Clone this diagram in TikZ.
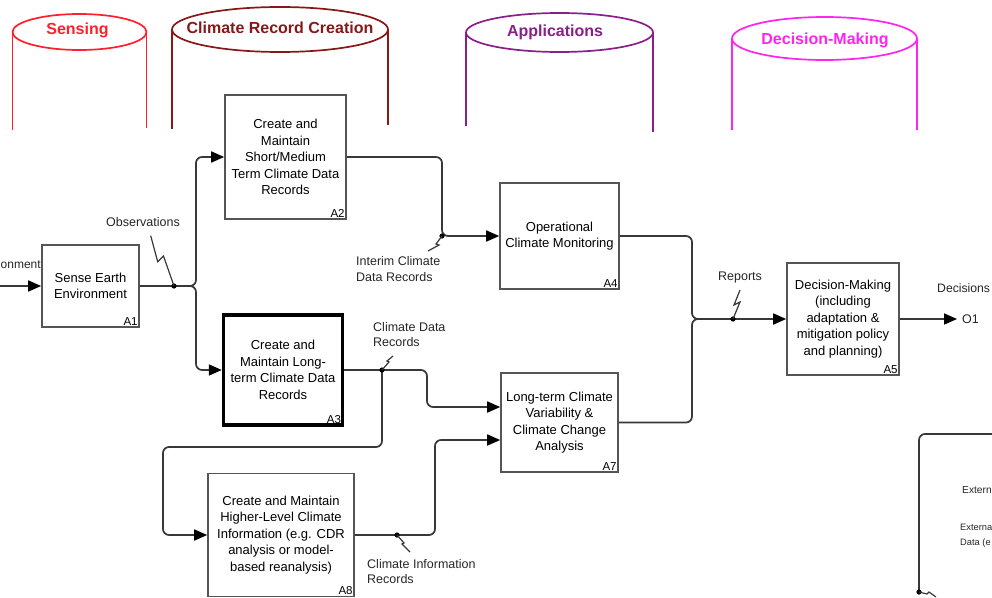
\documentclass[tikz,border=0pt]{standalone}
\usepackage{fontspec}
\setmainfont{Liberation Sans}
\usetikzlibrary{arrows.meta,calc}
\definecolor{senscol}{HTML}{FF1F2F}
\definecolor{crccol}{HTML}{861818}
\definecolor{appcol}{HTML}{8A1E8A}
\definecolor{dmcol}{HTML}{FF22F0}
\definecolor{boxgray}{HTML}{555555}
\definecolor{linegray}{HTML}{383838}
\begin{document}
\begin{tikzpicture}[x=1pt,y=-1pt,
  box/.style={draw=boxgray, line width=1.6pt, align=center, inner sep=0pt, font=\fontsize{13}{16.5}\selectfont},
  conn/.style={draw=linegray, line width=1.7pt, rounded corners=6pt},
  arr/.style={conn, -{Triangle[length=13pt,width=11pt,color=black,fill=black]}},
  lbl/.style={font=\fontsize{12.5}{15.5}\selectfont, inner sep=0pt, text=black!85},
  boxid/.style={font=\fontsize{11.5}{13}\selectfont, inner sep=2pt, anchor=south east},
  ttl/.style={font=\bfseries\fontsize{16}{18}\selectfont, inner sep=0pt},
  cyl/.style={line width=1.7pt},
  squig/.style={draw=linegray, line width=1.2pt, line join=miter},
  jdot/.style={fill=black},
]
\useasboundingbox (0,0) rectangle (992,597);
\clip (0,0) rectangle (992,597);

% ---- swim-lane cylinders ----
\draw[cyl, senscol] (79.5,32) ellipse [x radius=67pt, y radius=18pt];
\draw[cyl, senscol] (12.5,32) -- (12.5,130) (146.5,32) -- (146.5,128);
\node[ttl, text=senscol] (tSens) at (77.5,30) {Sensing};

\draw[cyl, crccol] (280,29.5) ellipse [x radius=108pt, y radius=22.5pt];
\draw[cyl, crccol] (172,29.5) -- (172,129) (388,29.5) -- (388,125);
\node[ttl, text=crccol] (tCrc) at (280,28) {Climate Record Creation};

\draw[cyl, appcol] (559.5,32.5) ellipse [x radius=93.5pt, y radius=19.5pt];
\draw[cyl, appcol] (466,32.5) -- (466,126) (653,32.5) -- (653,132);
\node[ttl, text=appcol] (tApp) at (555,32) {Applications};

\draw[cyl, dmcol] (824.5,38.5) ellipse [x radius=92.5pt, y radius=21.5pt];
\draw[cyl, dmcol] (732,38.5) -- (732,130) (917,38.5) -- (917,130);
\node[ttl, text=dmcol] (tDm) at (825,40) {Decision-Making};

% ---- activity boxes ----
\node[box, minimum width=97pt, minimum height=82pt] (A1) at (90.5,286) {Sense Earth\\Environment};
\node[box, minimum width=121pt, minimum height=124pt] (A2) at (285.5,157) {Create and\\Maintain\\Short/Medium\\Term Climate Data\\Records};
\node[box, minimum width=119pt, minimum height=106pt] (A4) at (559.5,236) {Operational\\Climate Monitoring};
\node[box, minimum width=112pt, minimum height=112pt] (A5) at (843,319) {Decision-Making\\(including\\adaptation \&\\mitigation policy\\and planning)};
\node[box, draw=black, line width=3.4pt, minimum width=119pt, minimum height=110pt] (A3) at (283,370) {Create and\\Maintain Long-\\term Climate Data\\Records};
\node[box, minimum width=117pt, minimum height=99pt] (A7) at (559.5,422.5) {Long-term Climate\\Variability \&\\Climate Change\\Analysis};
\node[box, minimum width=146pt, minimum height=123pt] (A8) at (281,535) {Create and Maintain\\Higher-Level Climate\\Information (e.g. CDR\\analysis or model-\\based reanalysis)};

\node[boxid] (A1id) at (A1.south east) {A1};
\node[boxid] (A2id) at (A2.south east) {A2};
\node[boxid] (A4id) at (A4.south east) {A4};
\node[boxid] (A5id) at (A5.south east) {A5};
\node[boxid] (A3id) at ($(A3.south east)+(-1,-1)$) {A3};
\node[boxid] (A7id) at (A7.south east) {A7};
\node[boxid] (A8id) at (A8.south east) {A8};

% ---- coordinates ----
\coordinate (inEnv) at (0,286);
\coordinate (obsdot) at (174,286);
\coordinate (split1) at (196,286);
\coordinate (intdot) at (442,236);
\coordinate (merge) at (692,319);
\coordinate (repdot) at (733,319);
\coordinate (o1end) at (957,319);
\coordinate (cdrdot) at (382,370);
\coordinate (c1) at (427,407);
\coordinate (cirdot) at (397,535);
\coordinate (c2) at (435,440);
\coordinate (extTop) at (992,434);
\coordinate (extdot) at (919,592);

% ---- connectors ----
\draw[arr] (inEnv) -- (A1.west);
\draw[arr] (A1.east) -- (split1) |- (A2.west);
\draw[arr] (A1.east) -- (split1) |- (A3.west);
\draw[arr] (A2.east) -| (intdot) -- (A4.west);
\draw[arr] (A4.east) -| (merge) -- (A5.west);
\draw[conn] (A7.east) -| (merge) -- (repdot);
\draw[arr] (A5.east) -- (o1end);
\draw[arr] (A3.east) -| (c1) -- (c1 -| A7.west);
\draw[arr] (cdrdot) -- (382,447) -- (163,447) -- (163,535) -- (A8.west);
\draw[arr] (A8.east) -| (c2) -- (c2 -| A7.west);
\draw[conn] (extTop) -| (extdot);

% ---- junction dots ----
\fill[jdot] (obsdot) circle (2.6pt);
\fill[jdot] (intdot) circle (2.6pt);
\fill[jdot] (repdot) circle (2.6pt);
\fill[jdot] (cdrdot) circle (2.6pt);
\fill[jdot] (cirdot) circle (2.6pt);
\fill[jdot] (extdot) circle (2.6pt);

% ---- squiggles ----
\draw[squig] (obsdot) -- (163.5,256) -- (157.7,261.7) -- (150.7,235.7);
\draw[squig] (intdot) -- (436,244) -- (439,245) -- (428,251);
\draw[squig] (repdot) -- (740,302) -- (734,305) -- (740,290);
\draw[squig] (cdrdot) -- (389,362) -- (387,361) -- (393,356);
\draw[squig] (cirdot) -- (404,543) -- (402,544) -- (410,552);
\draw[squig] (extdot) -- (927,594) -- (929,592) -- (936,597);

% ---- labels ----
\node[lbl, anchor=west, font=\fontsize{12}{15}\selectfont] (envlbl) at (0.5,265) {onment};
\node[lbl] (obslbl) at (143,222) {Observations};
\node[lbl, anchor=west, align=left] (intlbl) at (356,269) {Interim Climate\\Data Records};
\node[lbl, anchor=west, align=left] (cdrlbl) at (373,334.5) {Climate Data\\Records};
\node[lbl, anchor=west, align=left] (cirlbl) at (367,571.5) {Climate Information\\Records};
\node[lbl] (replbl) at (740,277) {Reports};
\node[lbl, anchor=west, font=\fontsize{12.2}{15}\selectfont] (declbl) at (937,288) {Decisions};
\node[lbl, anchor=west] (o1lbl) at (962,319) {O1};
\node[lbl, anchor=west, font=\fontsize{10.2}{15}\selectfont] (ext1) at (962,490) {Extern};
\node[lbl, anchor=west, align=left, font=\fontsize{9.3}{15.5}\selectfont] (ext2) at (960,536) {Externa\\Data (e};
\end{tikzpicture}
\end{document}
